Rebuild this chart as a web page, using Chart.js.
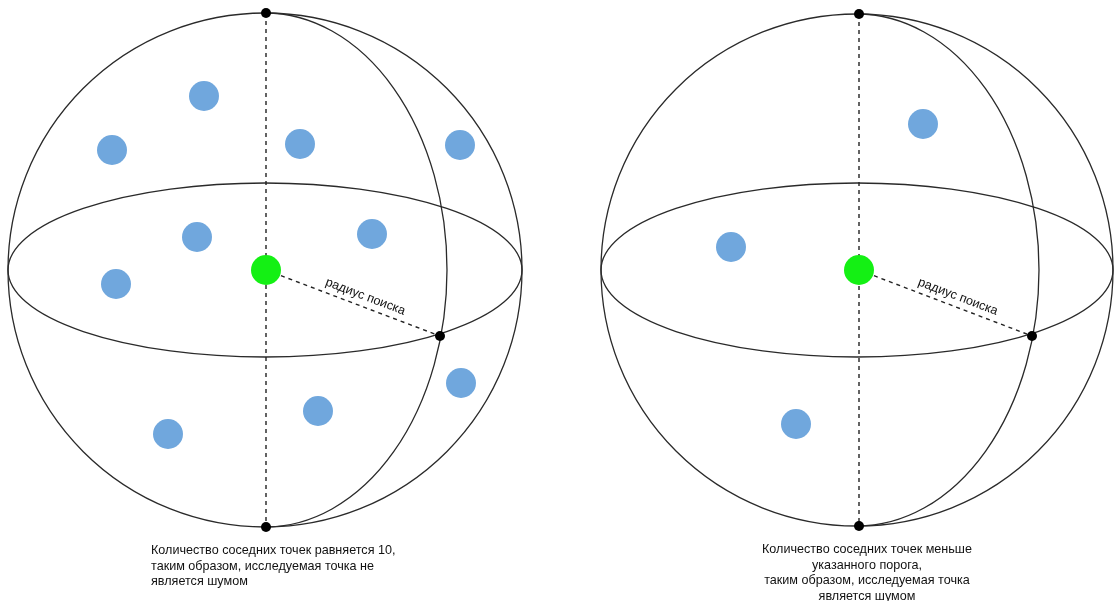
<!DOCTYPE html>
<html>
<head>
<meta charset="utf-8">
<script src="https://cdn.jsdelivr.net/npm/chart.js@4/dist/chart.umd.min.js"></script>
<style>
  html, body { margin: 0; padding: 0; background: #fff; }
  #wrap { width: 1115px; height: 601px; }
</style>
</head>
<body>
<div id="wrap"><canvas id="diagram"></canvas></div>
<script>
// sphere geometry, in chart units (x: 0..1115, y: 0..601 top-down)
const sphereCenterX = [265, 857];
const sphereCenterY = [270, 270];
const sphereRadius = [257, 256];
const equatorHalfHeight = [87, 87];
const meridianHalfWidth = [182, 182];

// point under study (green) and the point on the search radius
const studyX = [266, 859];
const studyY = [270, 270];
const edgeX = [440, 1032];
const edgeY = [336, 336];

// neighbours
const leftNeighboursX = [204, 112, 300, 460, 197, 372, 116, 461, 318, 168];
const leftNeighboursY = [96, 150, 144, 145, 237, 234, 284, 383, 411, 434];
const rightNeighboursX = [923, 731, 796];
const rightNeighboursY = [124, 247, 424];

const radiusLabel = "радиус поиска";
const leftCaption = [
  "Количество соседних точек равняется 10,",
  "таким образом, исследуемая точка не",
  "является шумом"
];
const rightCaption = [
  "Количество соседних точек меньше",
  "указанного порога,",
  "таким образом, исследуемая точка",
  "является шумом"
];

const toPoints = (xs, ys) => xs.map((x, i) => ({ x: x, y: ys[i] }));

const datasets = [];
for (let i = 0; i < 2; i++) {
  // vertical dashed axis
  datasets.push({
    type: "line",
    order: 5,
    data: [
      { x: studyX[i], y: sphereCenterY[i] - sphereRadius[i] },
      { x: studyX[i], y: sphereCenterY[i] + sphereRadius[i] },
    ],
    borderColor: "#222",
    borderWidth: 1.4,
    borderDash: [4, 4],
    pointRadius: 0,
  });
  // search radius
  datasets.push({
    type: "line",
    order: 5,
    data: [
      { x: studyX[i], y: studyY[i] },
      { x: edgeX[i], y: edgeY[i] },
    ],
    borderColor: "#222",
    borderWidth: 1.4,
    borderDash: [4, 4],
    pointRadius: 0,
  });
}
datasets.push({
  order: 3,
  data: toPoints(leftNeighboursX, leftNeighboursY)
    .concat(toPoints(rightNeighboursX, rightNeighboursY)),
  backgroundColor: "#70a7dd",
  borderWidth: 0,
  pointRadius: 15,
});
datasets.push({
  order: 2,
  data: toPoints(studyX, studyY),
  backgroundColor: "#14f014",
  borderWidth: 0,
  pointRadius: 15,
});
const blackX = [], blackY = [];
for (let i = 0; i < 2; i++) {
  blackX.push(studyX[i], studyX[i], edgeX[i]);
  blackY.push(sphereCenterY[i] - sphereRadius[i], sphereCenterY[i] + sphereRadius[i], edgeY[i]);
}
datasets.push({
  order: 1,
  data: toPoints(blackX, blackY),
  backgroundColor: "#000",
  borderWidth: 0,
  pointRadius: 5,
});

const spheres = {
  id: "spheres",
  beforeDatasetsDraw(chart) {
    const ctx = chart.ctx;
    const xs = chart.scales.x, ys = chart.scales.y;
    const ux = xs.getPixelForValue(1) - xs.getPixelForValue(0);
    const uy = Math.abs(ys.getPixelForValue(1) - ys.getPixelForValue(0));
    ctx.save();
    ctx.strokeStyle = "#2a2a2a";
    ctx.lineWidth = 1.3;
    for (let i = 0; i < 2; i++) {
      const cx = xs.getPixelForValue(sphereCenterX[i]);
      const cy = ys.getPixelForValue(sphereCenterY[i]);
      const r = sphereRadius[i];
      ctx.beginPath();
      ctx.ellipse(cx, cy, r * ux, r * uy, 0, 0, Math.PI * 2);
      ctx.stroke();
      ctx.beginPath();
      ctx.ellipse(cx, cy, r * ux, equatorHalfHeight[i] * uy, 0, 0, Math.PI * 2);
      ctx.stroke();
      ctx.beginPath();
      ctx.ellipse(cx, cy, meridianHalfWidth[i] * ux, r * uy, 0, -Math.PI / 2, Math.PI / 2);
      ctx.stroke();
    }
    ctx.restore();
  },
  afterDatasetsDraw(chart) {
    const ctx = chart.ctx;
    const xs = chart.scales.x, ys = chart.scales.y;
    ctx.save();
    ctx.fillStyle = "#111";
    ctx.font = "12.6px 'Liberation Sans', Arial, sans-serif";
    for (let i = 0; i < 2; i++) {
      const x0 = xs.getPixelForValue(studyX[i]), y0 = ys.getPixelForValue(studyY[i]);
      const x1 = xs.getPixelForValue(edgeX[i]), y1 = ys.getPixelForValue(edgeY[i]);
      const ang = Math.atan2(y1 - y0, x1 - x0);
      ctx.save();
      ctx.translate(x0 + (x1 - x0) * 0.55, y0 + (y1 - y0) * 0.55);
      ctx.rotate(ang);
      ctx.textAlign = "center";
      ctx.textBaseline = "bottom";
      ctx.fillText(radiusLabel, 0, -4);
      ctx.restore();
    }
    ctx.textBaseline = "middle";
    ctx.textAlign = "left";
    leftCaption.forEach((t, k) => ctx.fillText(t, xs.getPixelForValue(151), ys.getPixelForValue(551 + k * 15.5)));
    ctx.textAlign = "center";
    rightCaption.forEach((t, k) => ctx.fillText(t, xs.getPixelForValue(867), ys.getPixelForValue(550 + k * 15.4)));
    ctx.restore();
  },
};

new Chart(document.getElementById("diagram"), {
  type: "scatter",
  data: { datasets: datasets },
  options: {
    responsive: true,
    maintainAspectRatio: false,
    animation: false,
    layout: { padding: 0, autoPadding: false },
    plugins: { legend: { display: false }, tooltip: { enabled: false } },
    scales: {
      x: { type: "linear", min: 0, max: 1115, display: false },
      y: { type: "linear", min: 0, max: 601, reverse: true, display: false },
    },
  },
  plugins: [spheres],
});
</script>
</body>
</html>
